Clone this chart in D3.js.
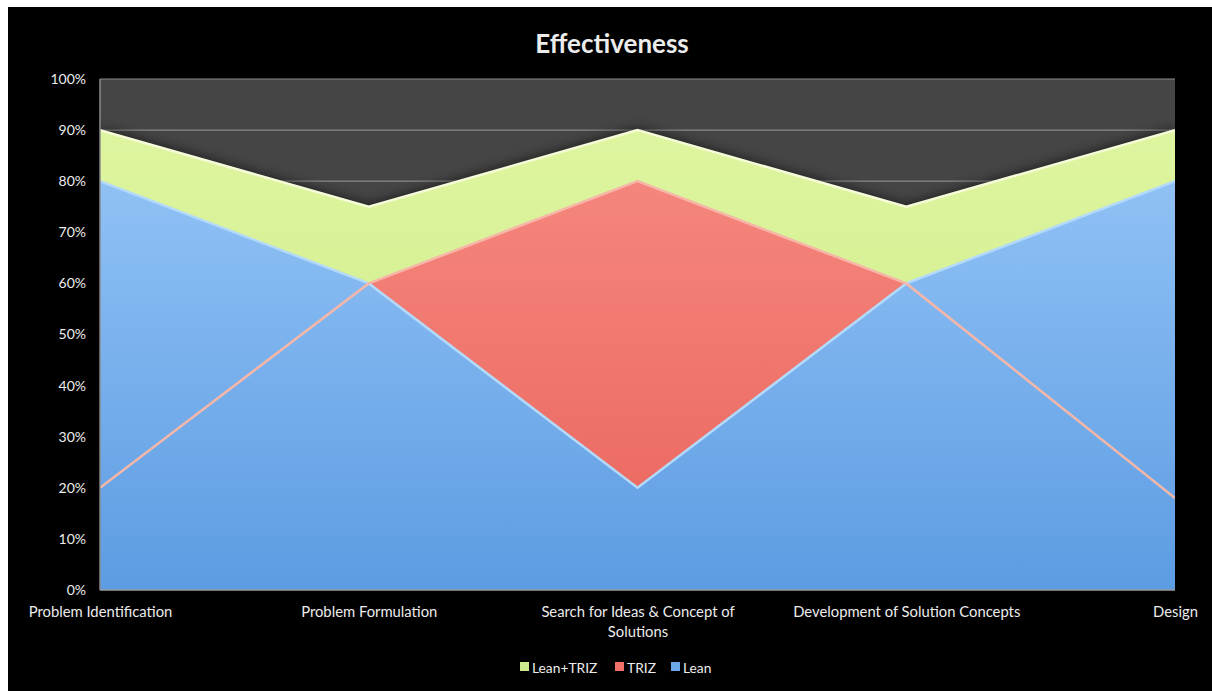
<!DOCTYPE html>
<html>
<head>
<meta charset="utf-8">
<script src="https://cdn.jsdelivr.net/npm/d3@7"></script>
<style>
  html, body { margin: 0; padding: 0; background: #ffffff; }
  svg { display: block; }
  text { font-family: Lato, "Open Sans", sans-serif; fill: #ececec; }
</style>
</head>
<body>
<svg id="chart" width="1212" height="691"></svg>
<script>
// Stages of the innovation process
const categories = [
  "Problem Identification",
  "Problem Formulation",
  "Search for Ideas & Concept of Solutions",
  "Development of Solution Concepts",
  "Design"
];
// Effectiveness per approach (%)
const leanTriz = [90, 75, 90, 75, 90];
const triz     = [20, 60, 80, 60, 18];
const lean     = [80, 60, 20, 60, 80];
const yTicks   = [0, 10, 20, 30, 40, 50, 60, 70, 80, 90, 100];
const seriesNames = ["Lean+TRIZ", "TRIZ", "Lean"];

const svg = d3.select("#chart");
const W = 1212, H = 691;
const plot = { left: 100, right: 1175, top: 79, bottom: 590 };

// black panel with a thin white margin at top and left
svg.append("rect").attr("x", 8).attr("y", 7).attr("width", W - 8).attr("height", H - 7).attr("fill", "#000");

const defs = svg.append("defs");
function vGrad(id, top, bottom) {
  const g = defs.append("linearGradient").attr("id", id)
    .attr("x1", 0).attr("y1", 0).attr("x2", 0).attr("y2", 1);
  g.append("stop").attr("offset", "0%").attr("stop-color", top);
  g.append("stop").attr("offset", "100%").attr("stop-color", bottom);
}
vGrad("gGreen", "#def59f", "#cbea86");
vGrad("gRed", "#f5867d", "#e9635b");
vGrad("gBlue", "#90c1f5", "#5c9ce2");

const shadow = defs.append("filter").attr("id", "shadow")
  .attr("x", "-5%").attr("y", "-10%").attr("width", "110%").attr("height", "120%");
shadow.append("feGaussianBlur").attr("in", "SourceAlpha").attr("stdDeviation", 7).attr("result", "b");
shadow.append("feComponentTransfer").attr("in", "b").attr("result", "s")
  .append("feFuncA").attr("type", "linear").attr("slope", 0.8);
const merge = shadow.append("feMerge");
merge.append("feMergeNode").attr("in", "s");
merge.append("feMergeNode").attr("in", "SourceGraphic");

const clip = defs.append("clipPath").attr("id", "plotClip");
clip.append("rect").attr("x", plot.left).attr("y", plot.top)
  .attr("width", plot.right - plot.left).attr("height", plot.bottom - plot.top);

const x = d3.scalePoint().domain(categories).range([plot.left, plot.right]);
const y = d3.scaleLinear().domain([0, 100]).range([plot.bottom, plot.top]);

// plot area background
svg.append("rect").attr("x", plot.left).attr("y", plot.top)
  .attr("width", plot.right - plot.left).attr("height", plot.bottom - plot.top)
  .attr("fill", "#454545");

// horizontal gridlines
svg.append("g").selectAll("line").data(yTicks.filter(t => t > 0)).join("line")
  .attr("x1", plot.left).attr("x2", plot.right)
  .attr("y1", d => y(d)).attr("y2", d => y(d))
  .attr("stroke", "#8a8a8a").attr("stroke-width", 1.2);

const area = d3.area().x((d, i) => x(categories[i])).y0(y(0)).y1(d => y(d));
const line = d3.line().x((d, i) => x(categories[i])).y(d => y(d));

const layers = svg.append("g").attr("clip-path", "url(#plotClip)");
layers.append("path").datum(leanTriz).attr("d", area).attr("fill", "url(#gGreen)").attr("filter", "url(#shadow)");
layers.append("path").datum(leanTriz).attr("d", line).attr("fill", "none").attr("stroke", "#f6fbd9").attr("stroke-width", 2.5);
layers.append("path").datum(triz).attr("d", area).attr("fill", "url(#gRed)");
layers.append("path").datum(lean).attr("d", area).attr("fill", "url(#gBlue)");
layers.append("path").datum(lean).attr("d", line).attr("fill", "none").attr("stroke", "#b3dafa").attr("stroke-width", 2.5);
layers.append("path").datum(triz).attr("d", line).attr("fill", "none").attr("stroke", "#f7b7a8").attr("stroke-width", 2.5);

// axis lines
svg.append("line").attr("x1", plot.left).attr("x2", plot.left).attr("y1", plot.top).attr("y2", plot.bottom)
  .attr("stroke", "#8a8a8a").attr("stroke-width", 1.5);
svg.append("line").attr("x1", plot.left).attr("x2", plot.right).attr("y1", plot.bottom).attr("y2", plot.bottom)
  .attr("stroke", "#9a9a9a").attr("stroke-width", 1.5);

// y axis
const yAxis = d3.axisLeft(y).tickValues(yTicks).tickFormat(d => d + "%").tickSize(0).tickPadding(14);
const yg = svg.append("g").attr("transform", `translate(${plot.left},0)`).call(yAxis);
yg.select(".domain").remove();
yg.selectAll("text").attr("font-size", 14).attr("fill", "#ececec").attr("font-family", "Lato, sans-serif");

// x axis labels (wrapped to two lines where long)
const xAxis = d3.axisBottom(x).tickSize(0).tickPadding(0).tickFormat("");
const xg = svg.append("g").attr("transform", `translate(0,${plot.bottom})`).call(xAxis);
xg.select(".domain").remove();
const wrap = {
  "Search for Ideas & Concept of Solutions": ["Search for Ideas & Concept of", "Solutions"]
};
xg.selectAll(".tick").each(function(d) {
  const lines = wrap[d] || [d];
  const t = d3.select(this).append("text")
    .attr("text-anchor", "middle").attr("font-size", 14.8).attr("fill", "#ececec")
    .attr("y", 27);
  lines.forEach((ln, i) => t.append("tspan").attr("x", 0).attr("dy", i === 0 ? 0 : 20).text(ln));
});

// title
svg.append("text").attr("x", 612).attr("y", 53).attr("text-anchor", "middle")
  .attr("font-size", 26).attr("font-weight", "bold").attr("fill", "#f2f2f2").text("Effectiveness");

// legend
const legendColors = ["#cdeb8e", "#ee7069", "#6aa8ea"];
const legendX = [520, 615, 671];
const lg = svg.append("g");
seriesNames.forEach((name, i) => {
  lg.append("rect").attr("x", legendX[i]).attr("y", 662).attr("width", 9).attr("height", 9)
    .attr("fill", legendColors[i]);
  lg.append("text").attr("x", legendX[i] + 12).attr("y", 673).attr("font-size", 13.8)
    .attr("fill", "#ececec").text(name);
});
</script>
</body>
</html>
